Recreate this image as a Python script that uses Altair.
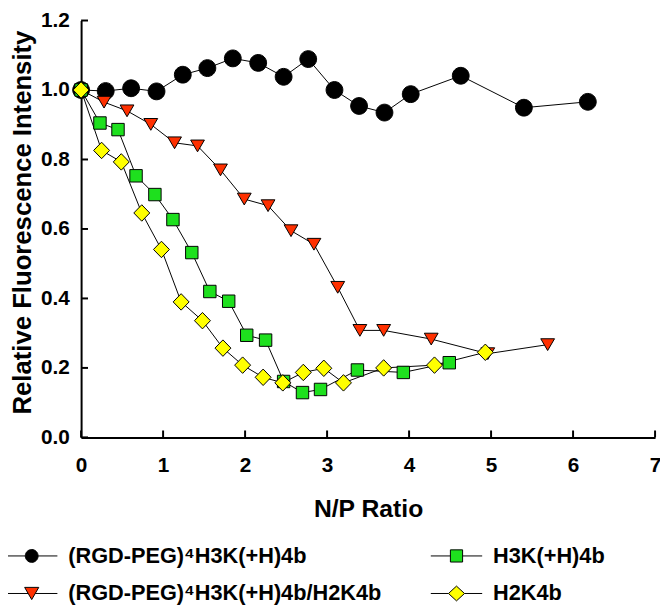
import altair as alt
import pandas as pd

# ---------------- data ----------------
s1 = "(RGD-PEG)\u2074H3K(+H)4b"
s2 = "(RGD-PEG)\u2074H3K(+H)4b/H2K4b"
s3 = "H3K(+H)4b"
s4 = "H2K4b"

x_circ = [0, 0.30, 0.61, 0.92, 1.24, 1.54, 1.85, 2.16, 2.47, 2.77, 3.09, 3.39, 3.70, 4.02, 4.63, 5.40, 6.18]
y_circ = [1.00, 0.997, 1.005, 0.996, 1.044, 1.063, 1.091, 1.078, 1.038, 1.089, 1.000, 0.954, 0.935, 0.988, 1.041, 0.949, 0.966]

x_tri = [0, 0.28, 0.56, 0.85, 1.14, 1.42, 1.70, 1.99, 2.28, 2.56, 2.84, 3.13, 3.40, 3.69, 4.27, 4.96, 5.69]
y_tri = [1.00, 0.965, 0.940, 0.901, 0.848, 0.839, 0.770, 0.686, 0.667, 0.595, 0.556, 0.432, 0.308, 0.308, 0.283, 0.241, 0.267]

x_sq = [0, 0.23, 0.45, 0.67, 0.90, 1.12, 1.35, 1.57, 1.80, 2.02, 2.25, 2.47, 2.70, 2.92, 3.37, 3.93, 4.49]
y_sq = [1.00, 0.905, 0.886, 0.753, 0.699, 0.627, 0.532, 0.420, 0.392, 0.294, 0.280, 0.161, 0.129, 0.138, 0.194, 0.187, 0.215]

x_dia = [0, 0.25, 0.49, 0.74, 0.98, 1.22, 1.48, 1.73, 1.97, 2.22, 2.46, 2.71, 2.96, 3.20, 3.69, 4.31, 4.93]
y_dia = [1.00, 0.826, 0.793, 0.646, 0.541, 0.390, 0.336, 0.257, 0.208, 0.173, 0.157, 0.187, 0.199, 0.157, 0.200, 0.208, 0.245]

x_ticks = [0, 1, 2, 3, 4, 5, 6, 7]
y_ticks = [0.0, 0.2, 0.4, 0.6, 0.8, 1.0, 1.2]

# ---------------- styling ----------------
FONT = "Liberation Sans"
series_order = [s1, s2, s3, s4]
color_map = {s1: "#000000", s2: "#FF3000", s3: "#1EE01E", s4: "#FFFF00"}
# marker outlines, unit = 8.5 px with size 289
marker_paths = {
    s1: "M-1,0A1,1,0,1,1,1,0A1,1,0,1,1,-1,0Z",
    s2: "M-0.82,-0.7L0.82,-0.7L0,0.7Z",
    s3: "M-0.74,-0.74H0.74V0.74H-0.74Z",
    s4: "M-0.95,0L0,-0.98L0.95,0L0,0.98Z",
}
legend_paths = {
    s1: "M-4,0H-1M1,0H4M-1,0A1,1,0,1,1,1,0A1,1,0,1,1,-1,0Z",
    s2: "M-4,0H-0.55M0.55,0H4M-1.1,-0.95L1.1,-0.95L0,0.95Z",
    s3: "M-4,0H-0.95M0.95,0H4M-0.95,-0.95H0.95V0.95H-0.95Z",
    s4: "M-4,0H-1.25M1.25,0H4M-1.25,0L0,-1.15L1.25,0L0,1.15Z",
}

series_data = [(s1, x_circ, y_circ), (s2, x_tri, y_tri), (s3, x_sq, y_sq), (s4, x_dia, y_dia)]
rows = []
for name, xs, ys in series_data:
    for i, (a, b) in enumerate(zip(xs, ys)):
        rows.append({"series": name, "x": a, "y": b, "idx": i})
df = pd.DataFrame(rows)

xt_df = pd.DataFrame({"v": x_ticks})
yt_df = pd.DataFrame({"v": y_ticks})

x_scale = alt.Scale(domain=[0, 7], nice=False, zero=False)
y_scale = alt.Scale(domain=[0, 1.2], nice=False, zero=False)

x_axis = alt.Axis(
    values=x_ticks, format="d", grid=False, ticks=False, tickSize=0,
    domainColor="black", domainWidth=2,
    labelFont=FONT, labelFontSize=21, labelFontWeight="bold", labelColor="black",
    labelPadding=29, labelBaseline="middle", labelFlush=False,
    title="N/P Ratio", titleFont=FONT, titleFontSize=25, titleFontWeight="bold",
    titleColor="black", titleY=80, titleBaseline="alphabetic",
)
y_axis = alt.Axis(
    values=y_ticks, format=".1f", grid=False, ticks=False, tickSize=0,
    domainColor="black", domainWidth=2,
    labelFont=FONT, labelFontSize=21, labelFontWeight="bold", labelColor="black",
    labelPadding=12, labelBaseline="middle", labelFlush=False,
    title="Relative Fluorescence Intensity", titleFont=FONT, titleFontSize=26,
    titleFontWeight="bold", titleColor="black", titleX=-51, titleY=204,
    titleAngle=270, titleBaseline="alphabetic", titleAlign="center",
)

lines = alt.Chart(df).mark_line(color="black", strokeWidth=1).encode(
    x=alt.X("x:Q", scale=x_scale, axis=x_axis),
    y=alt.Y("y:Q", scale=y_scale, axis=y_axis),
    detail="series:N",
    order="idx:Q",
)

point_layers = []
for name, _, _ in series_data:
    point_layers.append(
        alt.Chart(df).transform_filter(alt.datum.series == name).mark_point(
            shape=marker_paths[name], size=289, filled=True, opacity=1,
        ).encode(
            x="x:Q", y="y:Q",
            fill=alt.value(color_map[name]),
            stroke=alt.value("black"),
            strokeWidth=alt.value(1),
        )
    )

leg = alt.Legend(
    title=None, orient="none", legendX=-61, legendY=531, columns=2,
    direction="vertical",
    columnPadding=47, rowPadding=16, padding=0,
    labelFont=FONT, labelFontSize=22, labelFontWeight="bold", labelColor="black",
    labelOffset=26, labelLimit=500, symbolOffset=0, symbolSize=169,
    symbolStrokeWidth=1, symbolOpacity=1,
)

legend_layer = alt.Chart(df).transform_filter("datum.x > 1000").mark_point(
    filled=True, opacity=1, strokeWidth=1
).encode(
    shape=alt.Shape("series:N", scale=alt.Scale(domain=series_order, range=[legend_paths[s] for s in series_order]), legend=leg),
    fill=alt.Fill("series:N", scale=alt.Scale(domain=series_order, range=[color_map[s] for s in series_order]), legend=leg),
    stroke=alt.Stroke("series:N", scale=alt.Scale(domain=series_order, range=["#000000"] * 4), legend=leg),
)

xticks = alt.Chart(xt_df).mark_tick(orient="vertical", size=7, thickness=2, color="black", yOffset=-3.5, opacity=1).encode(
    x="v:Q", y=alt.datum(0)
)
yticks = alt.Chart(yt_df).mark_tick(orient="horizontal", size=7, thickness=2, color="black", xOffset=3.5, opacity=1).encode(
    y="v:Q", x=alt.datum(0)
)

chart = alt.layer(lines, xticks, yticks, *point_layers, legend_layer).properties(
    width=581, height=422,
    autosize=alt.AutoSizeParams(type="none"),
    padding={"left": 74, "top": 9, "right": 5, "bottom": 167},
    background="white",
).configure_view(stroke=None)

chart.save("out.html", embed_options={"renderer": "svg", "actions": False})
